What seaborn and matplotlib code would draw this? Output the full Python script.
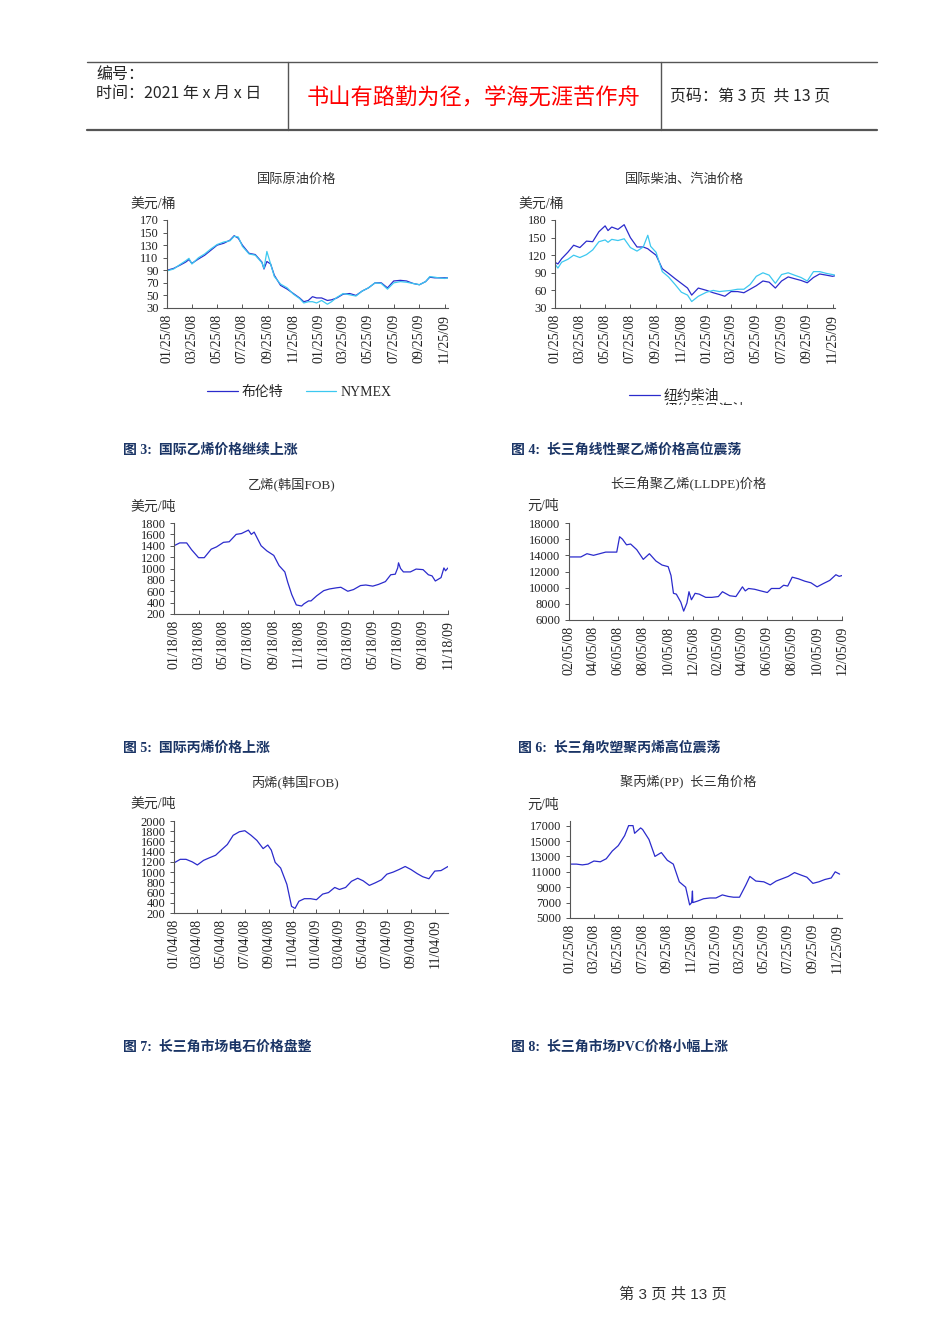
import pandas as pd
import seaborn as sns
import matplotlib.pyplot as plt
from matplotlib.lines import Line2D
from matplotlib.patches import Rectangle

# Chart data
oil_dates = ['2008-01-25', '2008-02-10', '2008-02-25', '2008-03-10', '2008-03-18', '2008-03-25',
             '2008-04-10', '2008-04-25', '2008-05-10', '2008-05-25', '2008-06-10', '2008-06-25',
             '2008-07-05', '2008-07-15', '2008-07-25', '2008-08-10', '2008-08-25', '2008-09-10',
             '2008-09-15', '2008-09-22', '2008-10-01', '2008-10-10', '2008-10-25', '2008-11-10',
             '2008-11-25', '2008-12-10', '2008-12-20', '2008-12-31', '2009-01-10', '2009-01-20',
             '2009-02-01', '2009-02-15', '2009-02-25', '2009-03-10', '2009-03-25', '2009-04-10',
             '2009-04-25', '2009-05-10', '2009-05-25', '2009-06-10', '2009-06-25', '2009-07-10',
             '2009-07-25', '2009-08-10', '2009-08-25', '2009-09-10', '2009-09-25', '2009-10-10',
             '2009-10-20', '2009-11-01', '2009-11-10', '2009-11-25', '2009-12-03']
brent = [90, 93, 98, 103, 107, 101, 108, 114, 122, 130, 133, 138, 145, 141, 130, 117, 115, 103,
         92, 104, 100, 82, 66, 60, 53, 46, 40, 42, 48, 46, 46, 42, 43, 46, 52, 53, 50, 57, 62, 70,
         70, 62, 73, 74, 73, 69, 67, 72, 79, 78, 78, 78, 78]
nymex = [89, 92, 99, 105, 109, 100, 110, 116, 124, 131, 135, 137, 144, 143, 128, 116, 114, 102,
         93, 120, 100, 80, 68, 62, 52, 45, 38, 40, 40, 38, 42, 36, 40, 47, 53, 51, 49, 57, 62, 70,
         69, 60, 70, 72, 71, 69, 67, 72, 80, 79, 78, 77, 78]

fuel_dates = ['2008-01-25', '2008-02-01', '2008-02-10', '2008-02-25', '2008-03-10', '2008-03-25',
              '2008-04-10', '2008-04-25', '2008-05-10', '2008-05-25', '2008-06-01', '2008-06-10',
              '2008-06-25', '2008-07-10', '2008-07-25', '2008-08-10', '2008-08-25', '2008-09-05',
              '2008-09-12', '2008-09-25', '2008-10-10', '2008-10-25', '2008-11-10', '2008-11-25',
              '2008-12-10', '2008-12-20', '2009-01-05', '2009-01-25', '2009-02-10', '2009-02-25',
              '2009-03-10', '2009-03-25', '2009-04-10', '2009-04-25', '2009-05-10', '2009-05-25',
              '2009-06-10', '2009-06-25', '2009-07-10', '2009-07-25', '2009-08-10', '2009-08-25',
              '2009-09-10', '2009-09-25', '2009-10-10', '2009-10-25', '2009-11-10', '2009-11-25',
              '2009-12-01']
diesel = [108, 105, 114, 125, 137, 133, 144, 143, 160, 170, 162, 168, 164, 172, 150, 134, 134,
          131, 127, 120, 97, 89, 80, 72, 64, 52, 64, 60, 56, 53, 50, 58, 58, 56, 62, 68, 76, 74,
          64, 76, 83, 80, 77, 73, 82, 88, 86, 84, 85]
gasoline = [105, 98, 108, 113, 120, 116, 121, 129, 143, 146, 142, 147, 145, 148, 133, 127, 134,
            154, 135, 125, 92, 83, 70, 57, 52, 41, 50, 57, 60, 58, 59, 60, 62, 62, 70, 84, 90, 86,
            72, 87, 90, 86, 82, 76, 92, 92, 89, 87, 86]

eth_dates = ['2008-01-18', '2008-02-01', '2008-02-18', '2008-03-01', '2008-03-18', '2008-04-01',
             '2008-04-18', '2008-05-01', '2008-05-18', '2008-06-01', '2008-06-18', '2008-07-01',
             '2008-07-18', '2008-07-25', '2008-08-01', '2008-08-18', '2008-09-01', '2008-09-18',
             '2008-10-01', '2008-10-15', '2008-10-22', '2008-11-01', '2008-11-12', '2008-11-25',
             '2008-12-01', '2008-12-12', '2008-12-18', '2009-01-01', '2009-01-18', '2009-02-01',
             '2009-02-18', '2009-03-01', '2009-03-18', '2009-04-01', '2009-04-18', '2009-05-01',
             '2009-05-18', '2009-06-01', '2009-06-18', '2009-07-01', '2009-07-12', '2009-07-18',
             '2009-07-20', '2009-07-25', '2009-08-01', '2009-08-18', '2009-09-01', '2009-09-18',
             '2009-10-01', '2009-10-10', '2009-10-18', '2009-11-01', '2009-11-08', '2009-11-12',
             '2009-11-18']
ethylene = [1400, 1450, 1450, 1330, 1190, 1190, 1340, 1380, 1460, 1470, 1600, 1615, 1675, 1600,
            1640, 1400, 1310, 1230, 1050, 940, 760, 540, 360, 340, 380, 430, 430, 520, 610, 640,
            660, 670, 600, 630, 700, 710, 690, 720, 770, 890, 900, 1010, 1100, 1000, 940, 940,
            990, 980, 890, 870, 780, 840, 1010, 960, 1010]

lldpe_dates = ['2008-02-05', '2008-03-05', '2008-03-20', '2008-04-05', '2008-04-20', '2008-05-05',
               '2008-05-20', '2008-06-01', '2008-06-08', '2008-06-15', '2008-06-25', '2008-07-05',
               '2008-07-20', '2008-08-05', '2008-08-20', '2008-09-05', '2008-09-20', '2008-10-05',
               '2008-10-12', '2008-10-18', '2008-10-25', '2008-11-05', '2008-11-12', '2008-11-20',
               '2008-11-25', '2008-12-01', '2008-12-10', '2008-12-20', '2009-01-05', '2009-01-20',
               '2009-02-05', '2009-02-15', '2009-03-05', '2009-03-20', '2009-04-05', '2009-04-12',
               '2009-04-20', '2009-05-05', '2009-05-20', '2009-06-05', '2009-06-15', '2009-07-05',
               '2009-07-15', '2009-07-25', '2009-08-05', '2009-08-20', '2009-09-05', '2009-09-20',
               '2009-10-05', '2009-10-20', '2009-11-05', '2009-11-20', '2009-11-28', '2009-12-05']
lldpe = [13800, 13800, 14200, 14000, 14200, 14400, 14400, 14400, 16300, 16000, 15300, 15400,
         14700, 13500, 14200, 13300, 12800, 12600, 11500, 9300, 9200, 8200, 7100, 8100, 9500,
         8500, 9300, 9200, 8800, 8800, 8900, 9500, 9000, 8900, 10100, 9600, 9900, 9800, 9600,
         9400, 9900, 9900, 10300, 10200, 11300, 11100, 10800, 10600, 10100, 10500, 10900, 11600,
         11400, 11500]

prop_dates = ['2008-01-04', '2008-01-20', '2008-02-04', '2008-02-20', '2008-03-04', '2008-03-20',
              '2008-04-04', '2008-04-20', '2008-05-04', '2008-05-20', '2008-06-04', '2008-06-20',
              '2008-07-04', '2008-07-20', '2008-08-04', '2008-08-20', '2008-09-01', '2008-09-10',
              '2008-09-20', '2008-10-04', '2008-10-20', '2008-11-01', '2008-11-10', '2008-11-20',
              '2008-12-04', '2008-12-20', '2009-01-04', '2009-01-20', '2009-02-04', '2009-02-20',
              '2009-03-04', '2009-03-20', '2009-04-04', '2009-04-20', '2009-05-04', '2009-05-20',
              '2009-06-04', '2009-06-20', '2009-07-04', '2009-07-20', '2009-08-04', '2009-08-20',
              '2009-09-04', '2009-09-20', '2009-10-04', '2009-10-20', '2009-11-04', '2009-11-20',
              '2009-12-08']
propylene = [1180, 1250, 1250, 1200, 1140, 1230, 1280, 1330, 1430, 1540, 1720, 1790, 1810, 1720,
             1620, 1460, 1530, 1430, 1190, 1080, 760, 330, 290, 430, 480, 480, 460, 570, 600, 700,
             660, 700, 820, 880, 830, 740, 790, 850, 960, 1000, 1050, 1110, 1050, 970, 910, 870,
             1020, 1030, 1110]

pp_dates = ['2008-01-25', '2008-02-10', '2008-02-25', '2008-03-10', '2008-03-25', '2008-04-10',
            '2008-04-25', '2008-05-10', '2008-05-25', '2008-06-10', '2008-06-20', '2008-07-01',
            '2008-07-05', '2008-07-20', '2008-07-25', '2008-08-10', '2008-08-25', '2008-09-10',
            '2008-09-25', '2008-10-10', '2008-10-25', '2008-11-10', '2008-11-20', '2008-11-25',
            '2008-11-27', '2008-11-28', '2008-12-10', '2008-12-25', '2009-01-10', '2009-01-25',
            '2009-02-10', '2009-02-25', '2009-03-10', '2009-03-25', '2009-04-10', '2009-04-20',
            '2009-05-05', '2009-05-25', '2009-06-10', '2009-06-25', '2009-07-10', '2009-07-25',
            '2009-08-10', '2009-08-25', '2009-09-10', '2009-09-25', '2009-10-10', '2009-10-25',
            '2009-11-10', '2009-11-20', '2009-12-01']
pp = [12000, 12000, 11900, 12000, 12400, 12300, 12700, 13700, 14400, 15700, 17000, 17000, 16000,
      16700, 16500, 15200, 13000, 13500, 12500, 12000, 9700, 9000, 6700, 7000, 8500, 7000, 7200,
      7500, 7600, 7600, 8000, 7800, 7700, 7700, 9300, 10400, 9800, 9700, 9300, 9800, 10100,
      10400, 10900, 10600, 10300, 9500, 9700, 10000, 10200, 11000, 10700]

captions = ['图 3:  国际乙烯价格继续上涨', '图 4:  长三角线性聚乙烯价格高位震荡',
            '图 5:  国际丙烯价格上涨', '图 6:  长三角吹塑聚丙烯高位震荡',
            '图 7:  长三角市场电石价格盘整', '图 8:  长三角市场PVC价格小幅上涨']

W, H = 950, 1344
DARK = '#2b2bcc'
CYAN = '#3cc8f0'
NAVY = '#1b3566'

sns.set_style('white')
plt.rcParams['font.family'] = ['Liberation Serif', 'Noto Sans CJK SC']
plt.rcParams['axes.unicode_minus'] = False

fig = plt.figure(figsize=(W / 100, H / 100), dpi=100)


def fx(x):
    return x / W


def fy(y):
    return 1 - y / H


def make_ax(l, t, r, b):
    return fig.add_axes([fx(l), fy(b), fx(r - l), (b - t) / H])


def style_ax(ax, step_start, yticks, ylim, xlim):
    ticks = [pd.Timestamp(step_start) + pd.DateOffset(months=2 * i) for i in range(12)]
    ax.set_xlim(pd.Timestamp(xlim[0]), pd.Timestamp(xlim[1]))
    ax.set_xticks(ticks)
    ax.set_xticklabels([t.strftime('%m/%d/%y') for t in ticks], rotation=90, fontsize=10,
                       va='top', ha='center', color='#222222')
    ax.set_ylim(*ylim)
    ax.set_yticks(yticks)
    ax.set_yticklabels([str(v) for v in yticks], fontsize=9, color='#222222')
    ax.tick_params(axis='x', direction='in', length=3, pad=4, width=0.7, colors='#555555',
                   labelcolor='#222222', bottom=True)
    ax.tick_params(axis='y', direction='out', length=3, pad=3, width=0.7, colors='#555555',
                   labelcolor='#222222', left=True)
    for s in ['top', 'right']:
        ax.spines[s].set_visible(False)
    for s in ['left', 'bottom']:
        ax.spines[s].set_color('#555555')
        ax.spines[s].set_linewidth(0.8)
    ax.set_xlabel('')
    ax.set_ylabel('')
    ax.grid(False)


# ---- header ----
for y, lw in [(62, 1.0), (130, 1.6)]:
    fig.add_artist(Line2D([fx(87), fx(877)], [fy(y), fy(y)], color='#555555', lw=lw))
for x in [288, 661]:
    fig.add_artist(Line2D([fx(x), fx(x)], [fy(62), fy(130)], color='#555555', lw=1.0))
fig.text(fx(96), fy(74), '编号：', fontsize=11.5, family='Noto Sans CJK SC', va='center')
fig.text(fx(96), fy(93), '时间：2021 年 x 月 x 日', fontsize=11.5, family='Noto Sans CJK SC',
         va='center')
fig.text(fx(474), fy(98), '书山有路勤为径，学海无涯苦作舟', fontsize=16, family='Noto Sans CJK SC',
         color='#ff0000', ha='center', va='center')
fig.text(fx(670), fy(97), '页码：第 3 页  共 13 页', fontsize=11.5, family='Noto Sans CJK SC',
         va='center')

# ---- chart 1: 国际原油价格 ----
ax1 = make_ax(167, 220, 448, 308)
d1 = pd.to_datetime(oil_dates)
sns.lineplot(x=d1, y=brent, ax=ax1, color=DARK, linewidth=0.9, label='布伦特')
sns.lineplot(x=d1, y=nymex, ax=ax1, color=CYAN, linewidth=0.9, label='NYMEX')
style_ax(ax1, '2008-01-25', list(range(30, 171, 20)), (30, 170), ('2008-01-25', '2009-12-03'))
ax1.legend(loc='center left', bbox_to_anchor=(fx(200), fy(392)), bbox_transform=fig.transFigure,
           ncol=2, frameon=False, fontsize=10, handlelength=2.2, handletextpad=0.3,
           columnspacing=1.6, borderpad=0)

# ---- chart 2: 国际柴油、汽油价格 ----
ax2 = make_ax(555, 220, 835, 308)
d2 = pd.to_datetime(fuel_dates)
sns.lineplot(x=d2, y=diesel, ax=ax2, color=DARK, linewidth=0.9, label='纽约柴油')
sns.lineplot(x=d2, y=gasoline, ax=ax2, color=CYAN, linewidth=0.9, label='纽约93号汽油')
style_ax(ax2, '2008-01-25', list(range(30, 181, 30)), (30, 180), ('2008-01-25', '2009-12-01'))
ax2.legend(loc='upper left', bbox_to_anchor=(fx(622), fy(383)), bbox_transform=fig.transFigure,
           ncol=1, frameon=False, fontsize=10, handlelength=2.2, handletextpad=0.3,
           labelspacing=0.05, borderpad=0)

# ---- chart 3: 乙烯 ----
ax3 = make_ax(174, 523, 448, 614)
sns.lineplot(x=pd.to_datetime(eth_dates), y=ethylene, ax=ax3, color=DARK, linewidth=0.9)
style_ax(ax3, '2008-01-18', list(range(200, 1801, 200)), (200, 1800), ('2008-01-18', '2009-11-18'))

# ---- chart 4: LLDPE ----
ax4 = make_ax(569, 523, 842, 620)
sns.lineplot(x=pd.to_datetime(lldpe_dates), y=lldpe, ax=ax4, color=DARK, linewidth=0.9)
style_ax(ax4, '2008-02-05', list(range(6000, 18001, 2000)), (6000, 18000),
         ('2008-02-05', '2009-12-05'))

# ---- chart 5: 丙烯 ----
ax5 = make_ax(174, 821, 448, 913)
sns.lineplot(x=pd.to_datetime(prop_dates), y=propylene, ax=ax5, color=DARK, linewidth=0.9)
style_ax(ax5, '2008-01-04', list(range(200, 2001, 200)), (200, 2000), ('2008-01-04', '2009-12-08'))

# ---- chart 6: PP ----
ax6 = make_ax(570, 821, 842, 918)
sns.lineplot(x=pd.to_datetime(pp_dates), y=pp, ax=ax6, color=DARK, linewidth=0.9)
style_ax(ax6, '2008-01-25', list(range(5000, 17001, 2000)), (5000, 17600),
         ('2008-01-25', '2009-12-07'))

# chart titles and units
titles = [(297, 180, '国际原油价格'), (685, 180, '国际柴油、汽油价格'),
          (292, 484, '乙烯(韩国FOB)'), (688, 484, '长三角聚乙烯(LLDPE)价格'),
          (295, 782, '丙烯(韩国FOB)'), (688, 782, '聚丙烯(PP)  长三角价格')]
for x, y, t in titles:
    fig.text(fx(x), fy(y), t, fontsize=9.5, ha='center', va='center', color='#333333')
units = [(130, 204, '美元/桶'), (518, 204, '美元/桶'), (130, 507, '美元/吨'),
         (527, 506, '元/吨'), (130, 804, '美元/吨'), (527, 805, '元/吨')]
for x, y, t in units:
    fig.text(fx(x), fy(y), t, fontsize=10, ha='left', va='center', color='#333333')

# the second legend row of chart 2 is cut off in the original
fig.add_artist(Rectangle((fx(600), fy(430)), fx(200), (430 - 405) / H, facecolor='white',
                         edgecolor='none', zorder=10))

# captions
cap_pos = [(123, 450), (511, 450), (123, 748), (518, 748), (123, 1047), (511, 1047)]
for (x, y), t in zip(cap_pos, captions):
    fig.text(fx(x), fy(y), t, fontsize=10, fontweight='bold', color=NAVY, va='center')

# footer
fig.text(fx(673), fy(1294), '第 3 页 共 13 页', fontsize=11, ha='center', va='center',
         color='#333333', family=['Liberation Sans', 'Noto Sans CJK SC'])

fig.savefig('out.png', dpi=100, facecolor='white')
